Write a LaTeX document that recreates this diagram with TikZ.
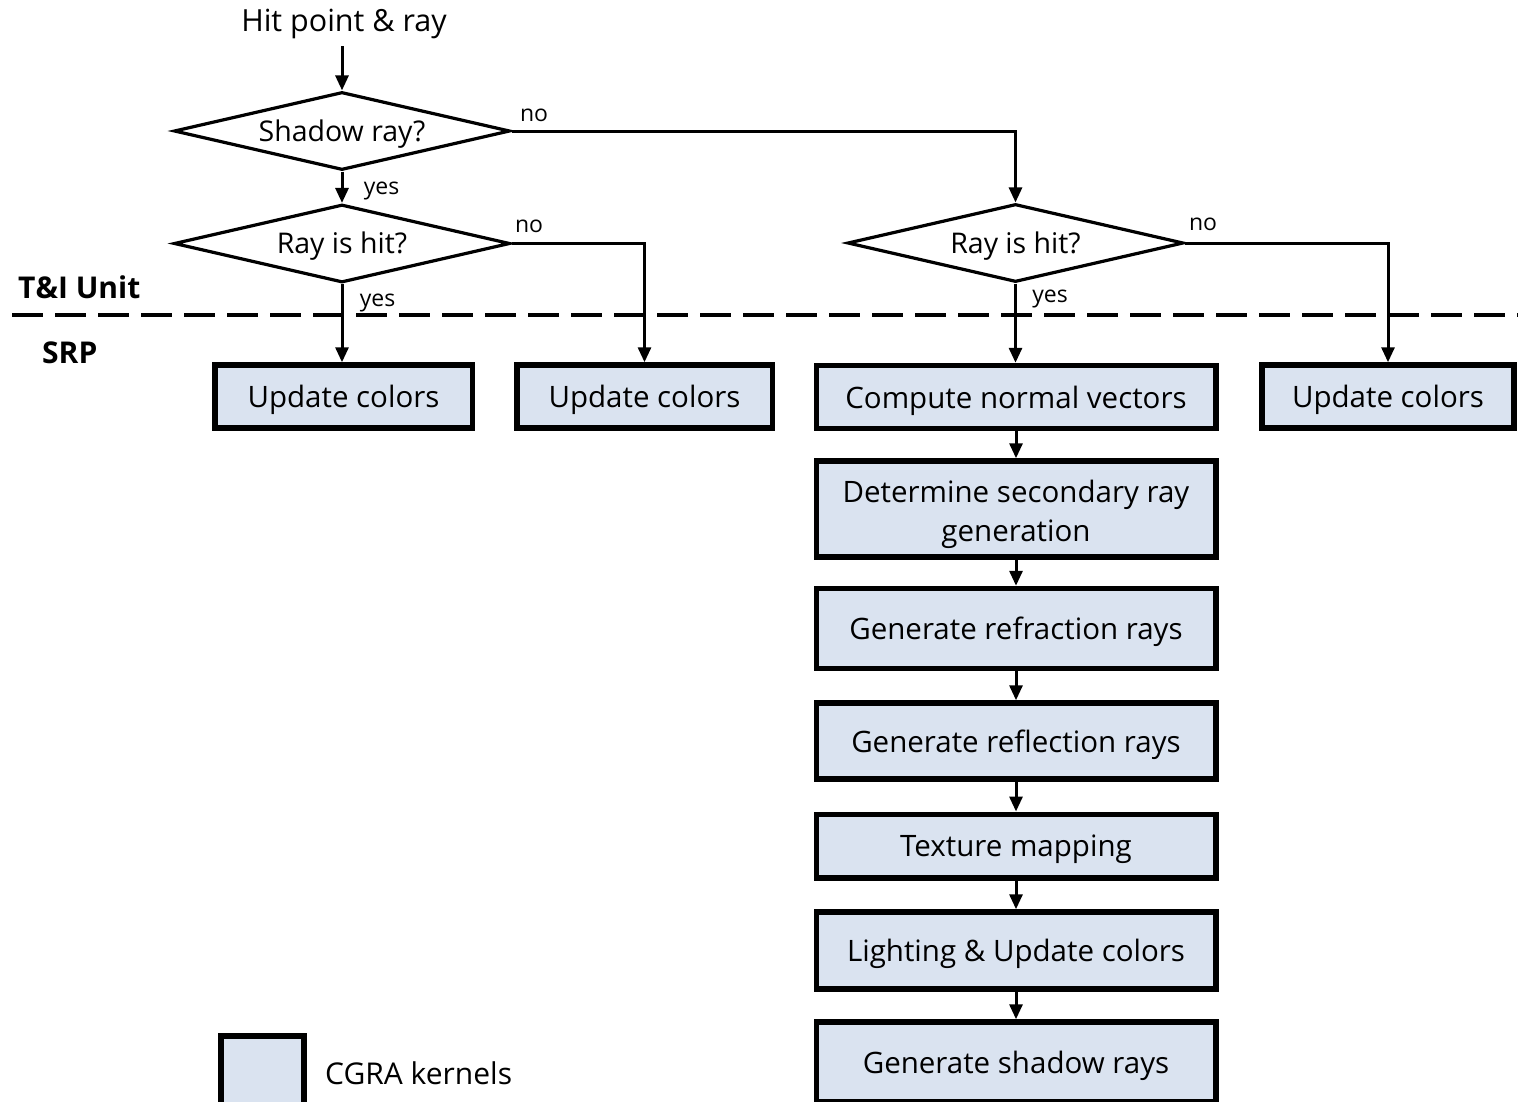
\documentclass[tikz,border=0pt]{standalone}
\usepackage{fontspec}
\setmainfont{Open Sans}
\usetikzlibrary{shapes.geometric,arrows.meta}
\definecolor{kernelfill}{HTML}{DAE3F0}
% lower a label a little without changing the size of its box
\newcommand\sinktext[2]{\raisebox{-#1}[\height][\depth]{#2}}
\begin{document}
\begin{tikzpicture}[x=1pt,y=-1pt,
  every node/.style={font=\fontsize{29.5}{39}\selectfont},
  kernel/.style={draw,line width=5.5pt,fill=kernelfill,inner sep=0pt,align=center},
  decision/.style={draw,line width=3.2pt,diamond,aspect=4.3,inner sep=0pt,
    minimum width=336pt,minimum height=78pt,font=\fontsize{28.5}{34}\selectfont},
  flow/.style={line width=3pt,-{Triangle[length=15pt,width=13pt]}},
  tag/.style={font=\fontsize{23}{26}\selectfont,inner sep=0pt},
  unitlabel/.style={font=\fontsize{30}{34}\selectfont\bfseries,inner sep=0pt}
]
\useasboundingbox (0,0) rectangle (1518,1101);
\clip (0,0) rectangle (1518,1101);

% entry text and decisions
\node[inner sep=0pt,font=\fontsize{30.5}{34}\selectfont] (entry) at (344,24) {Hit point \& ray};
\coordinate (entryout) at (342,46);
\node[decision] (shadow) at (342,131) {\sinktext{3pt}{Shadow ray?}};
\node[decision] (hitA) at (342,243.5) {\sinktext{3pt}{Ray is hit?}};
\node[decision] (hitB) at (1015.5,243) {\sinktext{3pt}{Ray is hit?}};

% unit boundary
\draw[line width=4pt,dash pattern=on 31pt off 12pt] (12,315) -- (1518,315);
\node[unitlabel,anchor=west] (tiu) at (18,287.5) {T\&I Unit};
\node[unitlabel,anchor=west] (srp) at (42,352.5) {SRP};

% kernel boxes
\node[kernel,minimum width=257.5pt,minimum height=63pt] (updA) at (343.5,396.5) {\sinktext{3.5pt}{Update colors}};
\node[kernel,minimum width=255.5pt,minimum height=63pt] (updB) at (644.5,396.5) {\sinktext{3.5pt}{Update colors}};
\node[kernel,minimum width=399.5pt,minimum height=63pt] (normals) at (1016,397) {\sinktext{3.5pt}{Compute normal vectors}};
\node[kernel,minimum width=252pt,minimum height=63pt] (updC) at (1388,396.5) {\sinktext{3.5pt}{Update colors}};
\node[kernel,minimum width=399.5pt,minimum height=96pt] (secondary) at (1016,509)
  {\sinktext{5pt}{\begin{tabular}{@{}c@{}}Determine secondary ray\\generation\end{tabular}}};
\node[kernel,minimum width=399.5pt,minimum height=80pt] (refraction) at (1016,628.5) {\sinktext{3.5pt}{Generate refraction rays}};
\node[kernel,minimum width=399.5pt,minimum height=76pt] (reflection) at (1016,741) {\sinktext{3.5pt}{Generate reflection rays}};
\node[kernel,minimum width=399.5pt,minimum height=63.5pt] (texture) at (1016,846) {\sinktext{3.5pt}{Texture mapping}};
\node[kernel,minimum width=399.5pt,minimum height=77pt] (lighting) at (1016,950.5) {\sinktext{3.5pt}{Lighting \& Update colors}};
\node[kernel,minimum width=399.5pt,minimum height=80pt] (shadowgen) at (1016,1062) {\sinktext{3.5pt}{Generate shadow rays}};

% legend
\node[draw,line width=6pt,fill=kernelfill,minimum width=83pt,minimum height=80pt,inner sep=0pt] (legendbox) at (262.5,1076) {};
\node[anchor=west,inner sep=0pt,font=\fontsize{30}{34}\selectfont] (legendtext) at (325,1073) {CGRA kernels};

% connectors
\draw[flow] (entryout -| shadow.north) -- (shadow.north);
\draw[flow] (shadow.south) -- (hitA.north);
\draw[flow] (shadow.east) -| (hitB.north);
\draw[flow] (hitA.south) -- (updA.north -| hitA.south);
\draw[flow] (hitA.east) -| (updB.north);
\draw[flow] (hitB.south) -- (normals.north -| hitB.south);
\draw[flow] (hitB.east) -| (updC.north);
\draw[flow] (normals) -- (secondary);
\draw[flow] (secondary) -- (refraction);
\draw[flow] (refraction) -- (reflection);
\draw[flow] (reflection) -- (texture);
\draw[flow] (texture) -- (lighting);
\draw[flow] (lighting) -- (shadowgen);

% branch labels
\node[tag] (noA) at (534,115) {no};
\node[tag] (yesA) at (381.5,191) {yes};
\node[tag] (noB) at (529,226.5) {no};
\node[tag] (yesB) at (377.5,302.5) {yes};
\node[tag] (noC) at (1203,224) {no};
\node[tag] (yesC) at (1050,299) {yes};
\end{tikzpicture}
\end{document}
